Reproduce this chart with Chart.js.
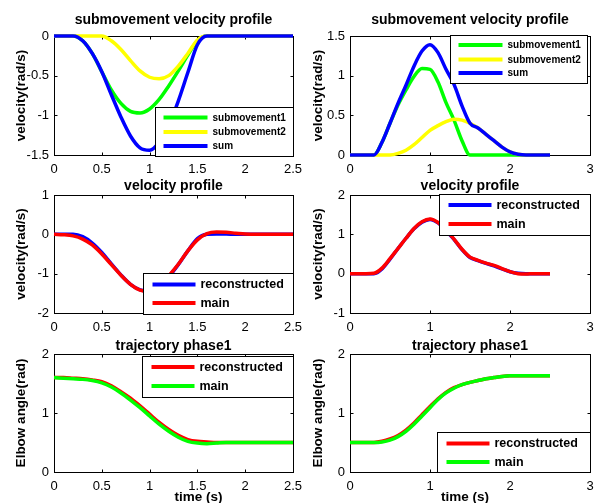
<!DOCTYPE html>
<html lang="en">
<head>
  <meta charset="UTF-8" />
  <title>Submovement velocity profiles</title>
  <script src="https://cdn.jsdelivr.net/npm/chart.js"></script>
  <style>
    html, body { margin: 0; padding: 0; background: #fff; overflow: hidden; }
    body { width: 598px; height: 503px; position: relative; }
    .panel { position: absolute; }
    .col-l { left: 0; width: 310px; }
    .col-r { left: 298px; width: 300px; }
    .row-1 { top: 0; height: 185px; }
    .row-2 { top: 159px; height: 184px; }
    .row-3 { top: 318px; height: 190px; }
  </style>
</head>
<body>
  <div class="panel col-l row-1"><canvas id="c-tl"></canvas></div>
  <div class="panel col-r row-1"><canvas id="c-tr"></canvas></div>
  <div class="panel col-l row-2"><canvas id="c-ml"></canvas></div>
  <div class="panel col-r row-2"><canvas id="c-mr"></canvas></div>
  <div class="panel col-l row-3"><canvas id="c-bl"></canvas></div>
  <div class="panel col-r row-3"><canvas id="c-br"></canvas></div>

  <script>
    // sample times (s), shared by every curve
    const time = [0, 0.1, 0.2, 0.3, 0.4, 0.5, 0.6, 0.7, 0.8, 0.9, 1.0, 1.1, 1.2, 1.3, 1.4, 1.5, 1.6, 1.7, 1.8, 1.9, 2.0, 2.1, 2.2, 2.3, 2.4, 2.5];

    // top left: submovements (rad/s)
    const tlSub1 = [0, 0, 0, -0.06, -0.22, -0.45, -0.68, -0.85, -0.95, -0.97, -0.92, -0.80, -0.63, -0.44, -0.24, -0.06, 0, 0, 0, 0, 0, 0, 0, 0, 0, 0];
    const tlSub2 = [0, 0, 0, 0, 0, 0, -0.06, -0.17, -0.31, -0.44, -0.52, -0.54, -0.50, -0.38, -0.22, -0.05, 0, 0, 0, 0, 0, 0, 0, 0, 0, 0];
    const tlSum = [0, 0, 0, -0.06, -0.22, -0.45, -0.74, -1.02, -1.26, -1.41, -1.44, -1.34, -1.13, -0.82, -0.46, -0.11, 0, 0, 0, 0, 0, 0, 0, 0, 0, 0];

    // top right: submovements (rad/s)
    const trSub1 = [0, 0, 0, 0, 0.16, 0.40, 0.63, 0.82, 0.99, 1.09, 1.08, 0.92, 0.66, 0.44, 0.18, 0, 0, 0, 0, 0, 0, 0, 0, 0, 0, 0];
    const trSub2 = [0, 0, 0, 0, 0, 0, 0.02, 0.06, 0.13, 0.22, 0.31, 0.37, 0.42, 0.45, 0.44, 0.40, 0.34, 0.26, 0.18, 0.10, 0.04, 0.01, 0, 0, 0, 0];
    const trSum = [0, 0, 0, 0, 0.16, 0.40, 0.65, 0.88, 1.12, 1.31, 1.39, 1.29, 1.08, 0.89, 0.62, 0.40, 0.34, 0.26, 0.18, 0.10, 0.04, 0.01, 0, 0, 0, 0];

    // middle: velocity profiles (rad/s)
    const mlRecon = [0, 0, 0, -0.06, -0.22, -0.46, -0.75, -1.03, -1.27, -1.41, -1.44, -1.33, -1.08, -0.77, -0.42, -0.11, 0, 0.01, 0.01, 0, 0, 0, 0, 0, 0, 0];
    const mlMain = [0, -0.01, -0.04, -0.12, -0.27, -0.50, -0.77, -1.04, -1.27, -1.42, -1.46, -1.36, -1.06, -0.76, -0.42, -0.14, 0.02, 0.06, 0.05, 0.03, 0.01, 0, 0, 0, 0, 0];
    const mrRecon = [0, 0, 0, 0, 0.12, 0.37, 0.64, 0.90, 1.14, 1.31, 1.38, 1.29, 1.09, 0.87, 0.61, 0.41, 0.33, 0.26, 0.20, 0.12, 0.05, 0.01, 0, 0, 0, 0];
    const mrMain = [0, 0, 0, 0.01, 0.14, 0.38, 0.64, 0.90, 1.15, 1.32, 1.39, 1.30, 1.10, 0.88, 0.62, 0.42, 0.34, 0.27, 0.21, 0.13, 0.05, 0, -0.01, 0, 0, 0];

    // bottom: elbow angle (rad)
    const blRecon = [1.60, 1.60, 1.59, 1.58, 1.56, 1.53, 1.46, 1.36, 1.25, 1.12, 0.98, 0.84, 0.72, 0.62, 0.55, 0.52, 0.51, 0.50, 0.50, 0.50, 0.50, 0.50, 0.50, 0.50, 0.50, 0.50];
    const blMain = [1.60, 1.59, 1.58, 1.57, 1.55, 1.51, 1.44, 1.34, 1.22, 1.09, 0.95, 0.81, 0.69, 0.59, 0.52, 0.49, 0.48, 0.49, 0.50, 0.50, 0.50, 0.50, 0.50, 0.50, 0.50, 0.50];
    const brRecon = [0.50, 0.50, 0.50, 0.50, 0.52, 0.56, 0.62, 0.71, 0.83, 0.97, 1.11, 1.24, 1.35, 1.43, 1.48, 1.52, 1.55, 1.58, 1.60, 1.62, 1.63, 1.63, 1.63, 1.63, 1.63, 1.63];
    const brMain = [0.50, 0.50, 0.50, 0.50, 0.51, 0.54, 0.60, 0.69, 0.81, 0.95, 1.09, 1.23, 1.34, 1.42, 1.48, 1.52, 1.55, 1.58, 1.60, 1.62, 1.63, 1.63, 1.63, 1.63, 1.63, 1.63];

    // tick labels
    const xTicksLeft = [0, 0.5, 1, 1.5, 2, 2.5];
    const xTicksRight = [0, 1, 2, 3];
    const yTicksTL = [-1.5, -1, -0.5, 0];
    const yTicksTR = [0, 0.5, 1, 1.5];
    const yTicksML = [-2, -1, 0, 1];
    const yTicksMR = [-1, 0, 1, 2];
    const yTicksAngle = [0, 1, 2];

    const GREEN = '#00ff00', YELLOW = '#ffff00', BLUE = '#0000ff', RED = '#ff0000';

    Chart.defaults.font.family = '"Liberation Sans", Arial, Helvetica, sans-serif';
    Chart.defaults.color = '#000';

    // matlab style box, inward ticks, in-axes legend and xlabel
    const matlabAxes = {
      id: 'matlabAxes',
      beforeDatasetsDraw(chart) {
        const { ctx, chartArea: a, scales: { x, y } } = chart;
        const L = Math.round(a.left) + 0.5, R = Math.round(a.right) + 0.5;
        const T = Math.round(a.top) + 0.5, B = Math.round(a.bottom) + 0.5;
        const tl = 3;
        ctx.save();
        ctx.strokeStyle = '#000';
        ctx.lineWidth = 1;
        ctx.strokeRect(L, T, R - L, B - T);
        ctx.beginPath();
        x.ticks.forEach(t => {
          const px = Math.round(x.getPixelForValue(t.value)) + 0.5;
          ctx.moveTo(px, B); ctx.lineTo(px, B - tl);
          ctx.moveTo(px, T); ctx.lineTo(px, T + tl);
        });
        y.ticks.forEach(t => {
          const py = Math.round(y.getPixelForValue(t.value)) + 0.5;
          ctx.moveTo(L, py); ctx.lineTo(L + tl, py);
          ctx.moveTo(R, py); ctx.lineTo(R - tl, py);
        });
        ctx.stroke();
        ctx.restore();
      },
      afterDatasetsDraw(chart, args, opts) {
        const { ctx, chartArea: a } = chart;
        const lg = opts.legend;
        ctx.save();
        if (lg) {
          const bx = Math.round(a.left + lg.left) + 0.5, by = Math.round(a.top + lg.top) + 0.5;
          const bw = Math.round(lg.width), bh = Math.round(lg.height);
          ctx.fillStyle = '#fff';
          ctx.fillRect(bx, by, bw, bh);
          ctx.strokeStyle = '#000';
          ctx.lineWidth = 1;
          ctx.strokeRect(bx, by, bw, bh);
          ctx.font = 'bold ' + lg.fontSize + 'px ' + Chart.defaults.font.family;
          ctx.textBaseline = 'middle';
          ctx.textAlign = 'left';
          lg.items.forEach((it, i) => {
            const yy = by + lg.rows[i];
            ctx.strokeStyle = it.color;
            ctx.lineWidth = 4;
            ctx.beginPath();
            ctx.moveTo(bx + lg.lineX[0], yy);
            ctx.lineTo(bx + lg.lineX[1], yy);
            ctx.stroke();
            ctx.fillStyle = '#000';
            ctx.fillText(it.label, bx + lg.textX, yy + 0.5);
          });
        }
        if (opts.xlabel) {
          ctx.font = 'bold 13.5px ' + Chart.defaults.font.family;
          ctx.fillStyle = '#000';
          ctx.textAlign = 'center';
          ctx.textBaseline = 'middle';
          ctx.fillText(opts.xlabel.text, (a.left + a.right) / 2 + opts.xlabel.dx, a.bottom + opts.xlabel.dy);
        }
        ctx.restore();
      }
    };

    function panel(id, o) {
      const tickFont = { size: 13, lineHeight: 1 };
      return new Chart(document.getElementById(id), {
        type: 'line',
        data: {
          datasets: o.series.map(s => ({
            label: s.label,
            data: time.map((t, i) => ({ x: t, y: s.values[i] })),
            borderColor: s.color,
            borderWidth: 3.5,
            borderJoinStyle: 'round',
            pointRadius: 0,
            cubicInterpolationMode: 'monotone',
            clip: false,
            order: s.order
          }))
        },
        options: {
          responsive: true,
          maintainAspectRatio: false,
          animation: false,
          events: [],
          layout: { padding: { left: 0, right: o.padRight, top: 0, bottom: 0 } },
          plugins: {
            legend: { display: false },
            tooltip: { enabled: false },
            title: {
              display: true, text: o.title, fullSize: false, color: '#000',
              font: { size: 14, weight: 'bold', lineHeight: 1 },
              padding: { top: o.titlePad[0], bottom: o.titlePad[1] }
            },
            matlabAxes: { legend: o.legend, xlabel: o.xlabel }
          },
          scales: {
            x: {
              type: 'linear', min: 0, max: o.xTicks[o.xTicks.length - 1],
              afterBuildTicks: s => { s.ticks = o.xTicks.map(v => ({ value: v })); },
              afterFit: s => { s.height = o.xHeight; s.paddingLeft = 0; s.paddingRight = 0; },
              grid: { display: false, drawTicks: false },
              border: { display: false },
              ticks: { autoSkip: false, maxRotation: 0, padding: 8, font: tickFont, color: '#000', callback: v => String(v) }
            },
            y: {
              type: 'linear', min: o.yTicks[0], max: o.yTicks[o.yTicks.length - 1],
              afterBuildTicks: s => { s.ticks = o.yTicks.map(v => ({ value: v })); },
              afterFit: s => { s.width = o.yWidth; s.paddingTop = 0; s.paddingBottom = 0; },
              grid: { display: false, drawTicks: false },
              border: { display: false },
              ticks: { autoSkip: false, padding: 5, font: tickFont, color: '#000', callback: v => String(v) },
              title: {
                display: true, text: o.ylabel, color: '#000',
                font: { size: 13.5, weight: 'bold', lineHeight: 1 },
                padding: { top: o.yTitlePad, bottom: 0 }
              }
            }
          }
        },
        plugins: [matlabAxes]
      });
    }

    const leftCol = { xTicks: xTicksLeft, yWidth: 54, padRight: 17, yTitlePad: 14.75 };
    const rightCol = { xTicks: xTicksRight, yWidth: 52, padRight: 8, yTitlePad: 13.25 };
    const legend3 = { fontSize: 10, lineX: [8, 52], textX: 57 };
    const legend2 = { fontSize: 12.5, lineX: [9, 52], textX: 57 };

    panel('c-tl', Object.assign({}, leftCol, {
      title: 'submovement velocity profile', titlePad: [13, 9], xHeight: 30,
      ylabel: 'velocity(rad/s)', yTicks: yTicksTL,
      series: [
        { label: 'submovement1', values: tlSub1, color: GREEN, order: 3 },
        { label: 'submovement2', values: tlSub2, color: YELLOW, order: 2 },
        { label: 'sum', values: tlSum, color: BLUE, order: 1 }
      ],
      legend: Object.assign({}, legend3, {
        left: 101, top: 71, width: 138, height: 49, rows: [10, 24.5, 38.5],
        items: [{ label: 'submovement1', color: GREEN }, { label: 'submovement2', color: YELLOW }, { label: 'sum', color: BLUE }]
      })
    }));

    panel('c-tr', Object.assign({}, rightCol, {
      title: 'submovement velocity profile', titlePad: [13, 9], xHeight: 30,
      ylabel: 'velocity(rad/s)', yTicks: yTicksTR,
      series: [
        { label: 'submovement1', values: trSub1, color: GREEN, order: 3 },
        { label: 'submovement2', values: trSub2, color: YELLOW, order: 2 },
        { label: 'sum', values: trSum, color: BLUE, order: 1 }
      ],
      legend: Object.assign({}, legend3, {
        left: 100, top: -1, width: 137, height: 48, rows: [9.5, 24, 37.5],
        items: [{ label: 'submovement1', color: GREEN }, { label: 'submovement2', color: YELLOW }, { label: 'sum', color: BLUE }]
      })
    }));

    panel('c-ml', Object.assign({}, leftCol, {
      title: 'velocity profile', titlePad: [20, 2], xHeight: 30,
      ylabel: 'velocity(rad/s)', yTicks: yTicksML,
      series: [
        { label: 'reconstructed', values: mlRecon, color: BLUE, order: 2 },
        { label: 'main', values: mlMain, color: RED, order: 1 }
      ],
      legend: Object.assign({}, legend2, {
        left: 89, top: 78, width: 150, height: 41, rows: [11, 29.5],
        items: [{ label: 'reconstructed', color: BLUE }, { label: 'main', color: RED }]
      })
    }));

    panel('c-mr', Object.assign({}, rightCol, {
      title: 'velocity profile', titlePad: [20, 2], xHeight: 30,
      ylabel: 'velocity(rad/s)', yTicks: yTicksMR,
      series: [
        { label: 'reconstructed', values: mrRecon, color: BLUE, order: 2 },
        { label: 'main', values: mrMain, color: RED, order: 1 }
      ],
      legend: Object.assign({}, legend2, {
        left: 89, top: -1, width: 151, height: 41, rows: [10.5, 29.5],
        items: [{ label: 'reconstructed', color: BLUE }, { label: 'main', color: RED }]
      })
    }));

    panel('c-bl', Object.assign({}, leftCol, {
      title: 'trajectory phase1', titlePad: [21.5, 0.5], xHeight: 36,
      ylabel: 'Elbow angle(rad)', yTicks: yTicksAngle,
      xlabel: { text: 'time (s)', dx: 25, dy: 25 },
      series: [
        { label: 'reconstructed', values: blRecon, color: RED, order: 2 },
        { label: 'main', values: blMain, color: GREEN, order: 1 }
      ],
      legend: Object.assign({}, legend2, {
        left: 88, top: 2, width: 151, height: 41, rows: [10.5, 29.5],
        items: [{ label: 'reconstructed', color: RED }, { label: 'main', color: GREEN }]
      })
    }));

    panel('c-br', Object.assign({}, rightCol, {
      title: 'trajectory phase1', titlePad: [21.5, 0.5], xHeight: 36,
      ylabel: 'Elbow angle(rad)', yTicks: yTicksAngle,
      xlabel: { text: 'time (s)', dx: -5, dy: 25 },
      series: [
        { label: 'reconstructed', values: brRecon, color: RED, order: 2 },
        { label: 'main', values: brMain, color: GREEN, order: 1 }
      ],
      legend: Object.assign({}, legend2, {
        left: 87, top: 78, width: 153, height: 40, rows: [11, 29.5],
        items: [{ label: 'reconstructed', color: RED }, { label: 'main', color: GREEN }]
      })
    }));
  </script>
</body>
</html>
